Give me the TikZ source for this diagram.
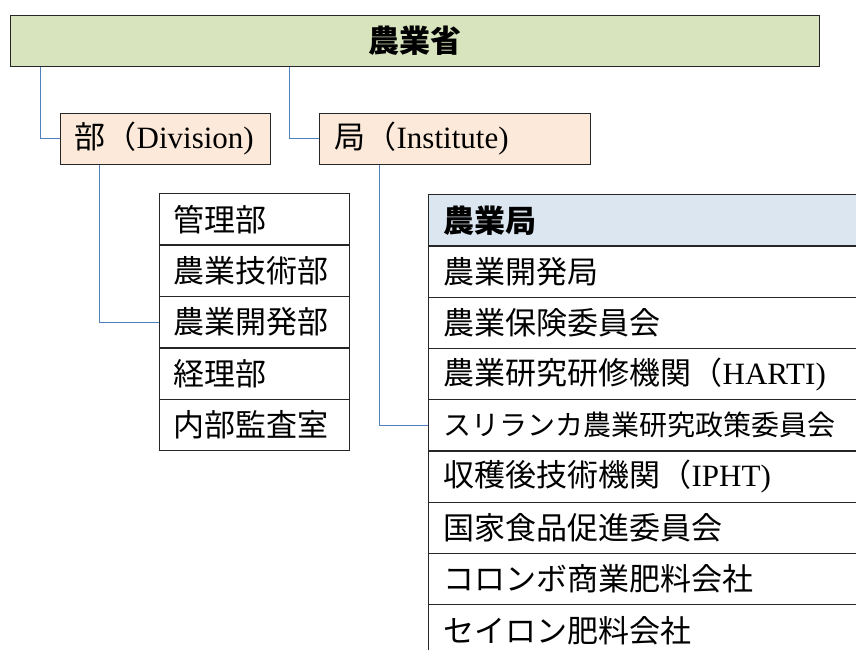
\documentclass[tikz,border=0pt]{standalone}
\usepackage{fontspec}
\setmainfont{Liberation Serif}
\newfontfamily\jp{Noto Sans CJK JP}

\definecolor{headgreen}{HTML}{D7E4BD}
\definecolor{peach}{HTML}{FDE9D9}
\definecolor{paleblue}{HTML}{DCE6F1}
\definecolor{linkblue}{HTML}{4F81BD}

\tikzset{
  box/.style={draw=black!85, line width=1.3pt, rectangle, inner ysep=0pt,
    anchor=north west, font=\jp\fontsize{31}{36}\selectfont},
  unitbox/.style={box, fill=peach, minimum height=51.5pt, align=left},
  cell/.style={box, minimum height=51.4pt, inner xsep=14pt, text width=162pt, align=left},
  rcell/.style={box, minimum height=51.25pt, inner xsep=15pt, text width=420pt, align=left},
  link/.style={draw=linkblue, line width=0.9pt},
}

\begin{document}
\begin{tikzpicture}[x=1pt,y=-1pt]
\useasboundingbox (0,0) rectangle (856,649);
\clip (0,0) rectangle (856,649);

% ministry
\node[box, fill=headgreen, minimum width=809pt, minimum height=51.5pt, inner xsep=0pt]
  (top) at (10,14.5) {\bfseries 農業省};

% the two branches
\node[unitbox, inner xsep=14pt, text width=182pt] (div) at (60,112.5)
  {部（{\rmfamily Division)}};
\node[unitbox, inner xsep=15pt, text width=241pt] (inst) at (319,112.5)
  {局（{\rmfamily Institute)}};

% divisions
\foreach \t [count=\i] in {管理部, 農業技術部, 農業開発部, 経理部, 内部監査室}
  \node[cell] (r\i) at (159, {193+51.4*(\i-1)}) {\t};

% institutes
\node[rcell, fill=paleblue] (s0) at (428,194) {\bfseries 農業局};
\foreach \t [count=\i] in {
    農業開発局,
    農業保険委員会,
    農業研究研修機関（{\rmfamily HARTI)},
    {\fontsize{28}{34}\selectfont スリランカ農業研究政策委員会},
    収穫後技術機関（{\rmfamily IPHT)},
    国家食品促進委員会,
    コロンボ商業肥料会社,
    セイロン肥料会社}
  \node[rcell] (s\i) at (428, {194+51.25*\i}) {\t};

% connectors
\draw[link] ([xshift=30pt]top.south west) |- (div.west);
\draw[link] ([xshift=279pt]top.south west) |- (inst.west);
\draw[link] ([xshift=39pt]div.south west) |- (r3.west);
\draw[link] ([xshift=60pt]inst.south west) |- (s4.west);
\end{tikzpicture}
\end{document}
